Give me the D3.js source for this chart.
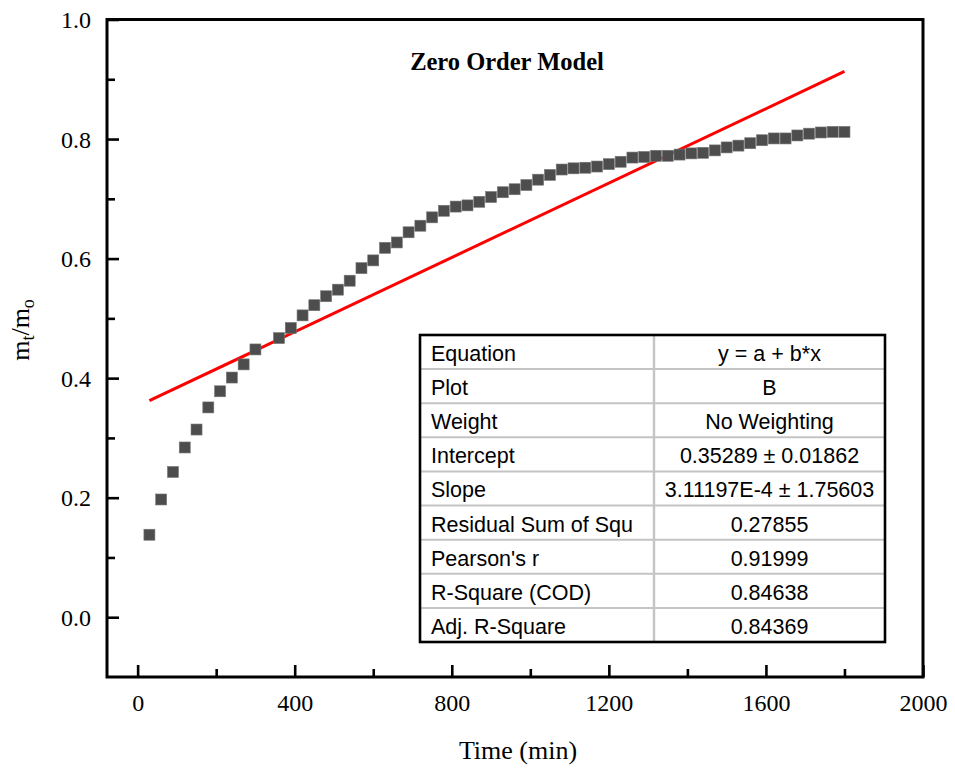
<!DOCTYPE html>
<html>
<head>
<meta charset="utf-8">
<script src="https://cdn.jsdelivr.net/npm/d3@7"></script>
<style>
  html, body { margin: 0; padding: 0; background: #fff; }
  svg { display: block; }
</style>
</head>
<body>
<svg id="chart" width="955" height="769"></svg>
<script>
// Release data: elapsed time (min) and fraction released m_t/m_o
const times = [30, 60, 90, 120, 150, 180, 210, 240, 270, 300,
  360, 390, 420, 450, 480, 510, 540, 570, 600, 630,
  660, 690, 720, 750, 780, 810, 840, 870, 900, 930,
  960, 990, 1020, 1050, 1080, 1110, 1140, 1170, 1200, 1230,
  1260, 1290, 1320, 1350, 1380, 1410, 1440, 1470, 1500, 1530,
  1560, 1590, 1620, 1650, 1680, 1710, 1740, 1770, 1800];
const released = [0.138, 0.197, 0.243, 0.284, 0.314, 0.351, 0.378, 0.401, 0.423, 0.448,
  0.467, 0.484, 0.505, 0.522, 0.537, 0.548, 0.563, 0.584, 0.597, 0.618,
  0.627, 0.644, 0.655, 0.669, 0.680, 0.687, 0.689, 0.695, 0.703, 0.711,
  0.716, 0.723, 0.732, 0.740, 0.749, 0.751, 0.752, 0.754, 0.758, 0.762,
  0.769, 0.770, 0.772, 0.772, 0.774, 0.776, 0.777, 0.781, 0.786, 0.789,
  0.793, 0.798, 0.801, 0.801, 0.806, 0.809, 0.811, 0.812, 0.812];

// Zero order fit: y = a + b*x
const intercept = 0.35289;
const slope = 3.11197e-4;
const fitRange = [30, 1800];

// Axis ticks
const xMajorTicks = [0, 400, 800, 1200, 1600, 2000];
const xMinorTicks = [200, 600, 1000, 1400, 1800];
const yMajorTicks = [0.0, 0.2, 0.4, 0.6, 0.8, 1.0];
const yMinorTicks = [0.1, 0.3, 0.5, 0.7, 0.9];

// Fit statistics table
const tableLabels = ["Equation", "Plot", "Weight", "Intercept", "Slope",
  "Residual Sum of Squ", "Pearson's r", "R-Square (COD)", "Adj. R-Square"];
const tableValues = ["y = a + b*x", "B", "No Weighting", "0.35289 \u00B1 0.01862",
  "3.11197E-4 \u00B1 1.75603", "0.27855", "0.91999", "0.84638", "0.84369"];

const svg = d3.select("#chart");
const serif = "'Liberation Serif', 'Times New Roman', serif";
const sans = "'Liberation Sans', Arial, sans-serif";

const plot = { left: 107, right: 923, top: 19.5, bottom: 677 };

const x = d3.scaleLinear().domain([-78, 2000]).range([plot.left, plot.right]);
const y = d3.scaleLinear().domain([-0.1, 1.0]).range([plot.bottom, plot.top]);

svg.append("rect").attr("width", 955).attr("height", 769).attr("fill", "#fff");

// Inward ticks on bottom and left, drawn with d3 axes
function tickAxis(axisFn, scale, ticks, len, fmt) {
  return axisFn(scale).tickValues(ticks).tickSizeInner(-len).tickSizeOuter(0)
    .tickPadding(len + 8).tickFormat(fmt);
}

const xAxisMajor = svg.append("g").attr("transform", `translate(0,${plot.bottom})`)
  .call(tickAxis(d3.axisBottom, x, xMajorTicks, 12, d3.format("d")));
const xAxisMinor = svg.append("g").attr("transform", `translate(0,${plot.bottom})`)
  .call(tickAxis(d3.axisBottom, x, xMinorTicks, 8, () => ""));
const yAxisMajor = svg.append("g").attr("transform", `translate(${plot.left},0)`)
  .call(tickAxis(d3.axisLeft, y, yMajorTicks, 12, d3.format(".1f")));
const yAxisMinor = svg.append("g").attr("transform", `translate(${plot.left},0)`)
  .call(tickAxis(d3.axisLeft, y, yMinorTicks, 8, () => ""));

[xAxisMajor, xAxisMinor, yAxisMajor, yAxisMinor].forEach(g => {
  g.select(".domain").remove();
  g.selectAll(".tick line").attr("stroke", "#000").attr("stroke-width", 2.6);
  g.selectAll(".tick text").attr("fill", "#000")
    .attr("font-family", serif).attr("font-size", 24);
});
xAxisMajor.selectAll(".tick text").attr("dy", null).attr("y", 34);
yAxisMajor.selectAll(".tick text").attr("x", -16).attr("dy", "0.34em");

// Frame
svg.append("rect")
  .attr("x", plot.left).attr("y", plot.top)
  .attr("width", plot.right - plot.left).attr("height", plot.bottom - plot.top)
  .attr("fill", "none").attr("stroke", "#000").attr("stroke-width", 3);

// Fitted line
svg.append("line")
  .attr("x1", x(fitRange[0])).attr("y1", y(intercept + slope * fitRange[0]))
  .attr("x2", x(fitRange[1])).attr("y2", y(intercept + slope * fitRange[1]))
  .attr("stroke", "#ff0000").attr("stroke-width", 3);

// Data markers
const sq = 11;
svg.append("g").selectAll("rect")
  .data(times.map((t, i) => [t, released[i]]))
  .join("rect")
  .attr("x", d => x(d[0]) - sq / 2)
  .attr("y", d => y(d[1]) - sq / 2)
  .attr("width", sq).attr("height", sq)
  .attr("fill", "#4d4d4d")
  .attr("stroke", "#777").attr("stroke-width", 0.6);

// Title
svg.append("text")
  .attr("x", 507).attr("y", 70)
  .attr("text-anchor", "middle")
  .attr("font-family", serif).attr("font-weight", "bold").attr("font-size", 24.5)
  .text("Zero Order Model");

// Axis titles
svg.append("text")
  .attr("x", (plot.left + plot.right) / 2 + 3).attr("y", 759)
  .attr("text-anchor", "middle")
  .attr("font-family", serif).attr("font-size", 26)
  .text("Time (min)");

const yTitle = svg.append("text")
  .attr("transform", "translate(29,330) rotate(-90)")
  .attr("text-anchor", "middle")
  .attr("font-family", serif).attr("font-size", 26);
yTitle.append("tspan").text("m");
yTitle.append("tspan").attr("font-size", 18).attr("dy", 5).text("t");
yTitle.append("tspan").attr("dy", -5).text("/m");
yTitle.append("tspan").attr("font-size", 18).attr("dy", 5).text("o");

// Statistics table
const tbl = { left: 420, right: 885, top: 335, bottom: 642, split: 654 };
const rowY = d3.scaleBand().domain(d3.range(tableLabels.length))
  .range([tbl.top, tbl.bottom]);

const tg = svg.append("g");
tg.append("rect")
  .attr("x", tbl.left).attr("y", tbl.top)
  .attr("width", tbl.right - tbl.left).attr("height", tbl.bottom - tbl.top)
  .attr("fill", "#fff");

tg.selectAll("line.row")
  .data(d3.range(1, tableLabels.length))
  .join("line").attr("class", "row")
  .attr("x1", tbl.left).attr("x2", tbl.right)
  .attr("y1", i => rowY(i)).attr("y2", i => rowY(i))
  .attr("stroke", "#c4c4c4").attr("stroke-width", 2);

tg.append("line")
  .attr("x1", tbl.split).attr("x2", tbl.split)
  .attr("y1", tbl.top).attr("y2", tbl.bottom)
  .attr("stroke", "#c4c4c4").attr("stroke-width", 2.4);

tg.selectAll("text.label")
  .data(tableLabels)
  .join("text").attr("class", "label")
  .attr("x", tbl.left + 11)
  .attr("y", (d, i) => rowY(i) + 26)
  .attr("font-family", sans).attr("font-size", 21.5).attr("fill", "#000")
  .text(d => d);

tg.selectAll("text.value")
  .data(tableValues)
  .join("text").attr("class", "value")
  .attr("x", (tbl.split + tbl.right) / 2)
  .attr("y", (d, i) => rowY(i) + 26)
  .attr("text-anchor", "middle")
  .attr("font-family", sans).attr("font-size", 21.5).attr("fill", "#000")
  .text(d => d);

tg.append("rect")
  .attr("x", tbl.left).attr("y", tbl.top)
  .attr("width", tbl.right - tbl.left).attr("height", tbl.bottom - tbl.top)
  .attr("fill", "none").attr("stroke", "#000").attr("stroke-width", 2.6);
</script>
</body>
</html>
